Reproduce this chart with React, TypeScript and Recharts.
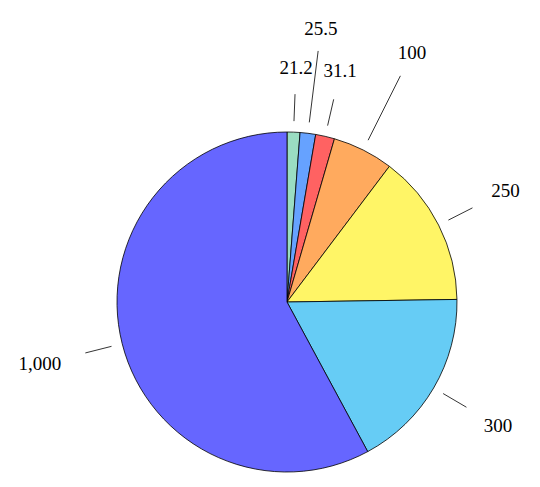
import { Cell, Pie, PieChart } from "recharts";

// slices clockwise from 12 o'clock
const values = [21.2, 25.5, 31.1, 100, 250, 300, 1000];
const labels = ["21.2", "25.5", "31.1", "100", "250", "300", "1,000"];
const colors = ["#9ADDC2", "#66A2FF", "#FF6262", "#FFAA5E", "#FFF566", "#66CCF5", "#6666FF"];
const longLeader = [false, true, false, true, false, false, false];

const data = values.map((v, i) => ({ name: labels[i], value: v }));
const RAD = Math.PI / 180;
const FONT = "'Liberation Serif', 'DejaVu Serif', serif";

function renderLabel(props: any) {
  const { cx, cy, midAngle, index } = props;
  const dx = Math.cos(-midAngle * RAD);
  const dy = Math.sin(-midAngle * RAD);
  const r1 = 181;
  const r2 = longLeader[index] ? 253 : 208;
  const text = labels[index];
  const w = text.length * 9;
  const rt = (longLeader[index] ? 273 : 233) + (w / 2) * Math.abs(dx);
  return (
    <g key={`lbl-${index}`} className="pie-lbl">
      <line
        x1={cx + r1 * dx}
        y1={cy + r1 * dy}
        x2={cx + r2 * dx}
        y2={cy + r2 * dy}
        stroke="#000"
        strokeWidth={0.8}
      />
      <text x={cx + rt * dx} y={cy + rt * dy + 6} textAnchor="middle" fill="#000">
        {text}
      </text>
    </g>
  );
}

export default function App() {
  return (
    <div style={{ position: "absolute", left: 0, top: 0, width: 540, height: 487, background: "#fff" }}>
      <style>{`.pie-lbl text, .recharts-pie-labels text { font-family: ${FONT} !important; font-size: 19px !important; }`}</style>
      <PieChart width={540} height={487} margin={{ top: 0, right: 0, bottom: 0, left: 0 }} style={{ fontFamily: FONT }}>
        <Pie
          data={data}
          dataKey="value"
          cx={287}
          cy={302}
          outerRadius={170}
          startAngle={90}
          endAngle={-270}
          stroke="#000"
          strokeWidth={0.8}
          label={renderLabel}
          labelLine={false}
          isAnimationActive={false}
        >
          {data.map((d, i) => (
            <Cell key={d.name} fill={colors[i]} />
          ))}
        </Pie>
      </PieChart>
    </div>
  );
}
